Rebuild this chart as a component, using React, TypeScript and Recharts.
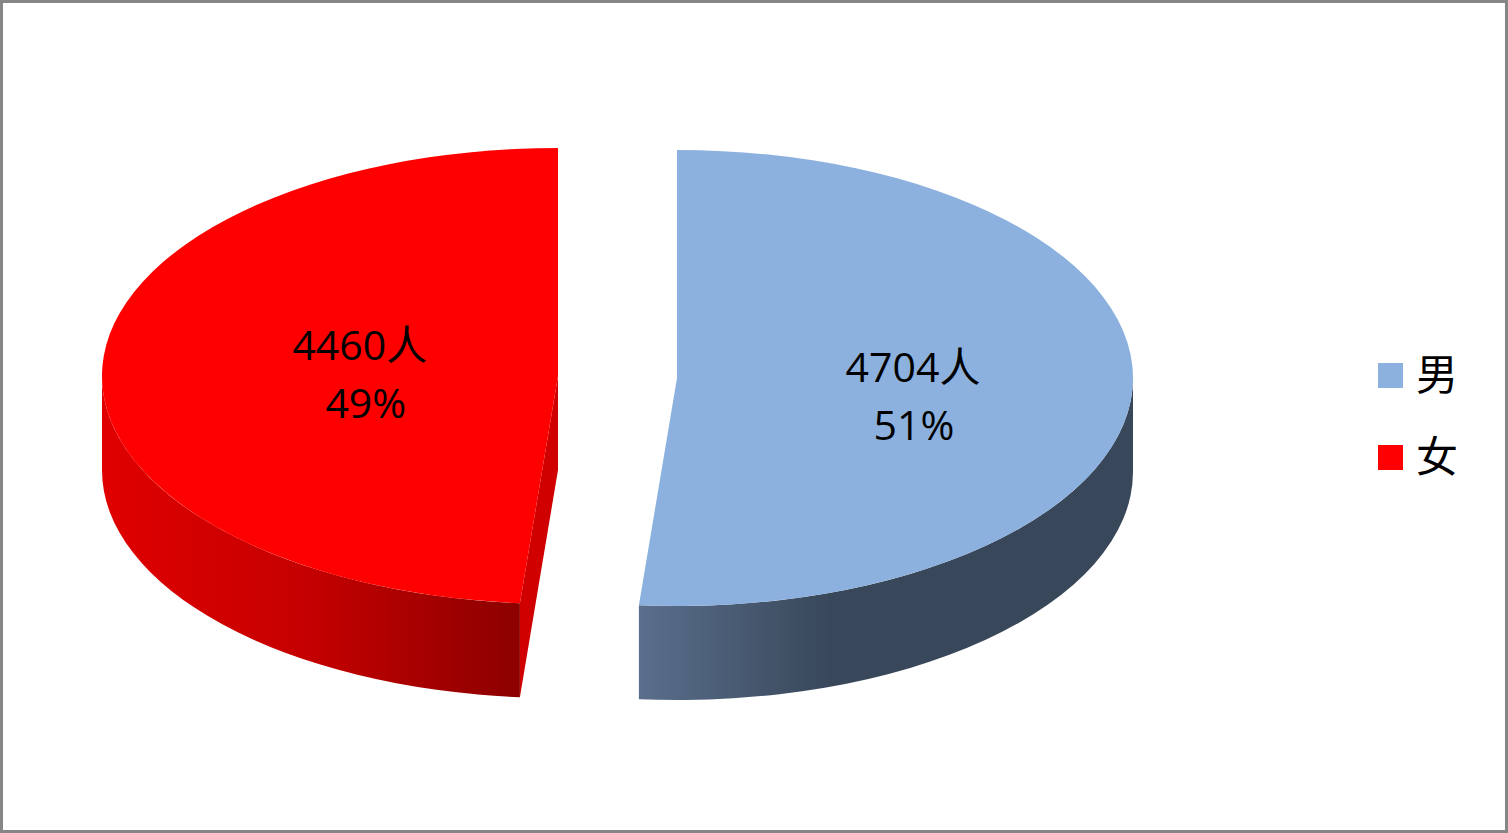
import React from "react";
import { PieChart, Pie, Legend } from "recharts";

const categories = ["男", "女"];
const people = [4704, 4460];
const topColors = ["#8cb1df", "#ff0000"];
const wallStops = [
  [["0", "#5a6f8d"], ["0.39", "#384759"], ["1", "#384759"]],
  [["0", "#e00000"], ["0.5", "#c40000"], ["1", "#8c0000"]],
];
const faceColors = ["#384759", "#d00000"];

const W = 1508;
const H = 833;
const FONT = '"Open Sans", "Noto Sans CJK SC", sans-serif';
const CENTER_X = 617.5;
const CENTER_Y = 378;
const RADIUS = 456;
const TILT = 0.5;
const DEPTH = 94;
const EXPLODE = [{ dx: 59.5, dy: 0 }, { dx: -59.5, dy: -2 }];
const LABEL_RADIUS = [0.518, 0.435];
const LABEL_BASELINE = [382, 360];
const LABEL_LINE = 58;
const PERCENT_SHIFT = [1, 6];

const rows = categories.map((name, i) => ({ name, value: people[i], fill: topColors[i] }));
const total = people.reduce((a, b) => a + b, 0);
const rad = (d: number) => (d * Math.PI) / 180;

function Slice(props: any) {
  const { cx, cy, outerRadius: r, startAngle, endAngle, index } = props;
  const ox = cx + EXPLODE[index].dx;
  const oy = cy + EXPLODE[index].dy;
  const ry = r * TILT;
  const pt = (a: number, drop = 0) => [ox + r * Math.cos(rad(a)), oy - ry * Math.sin(rad(a)) + drop];
  const [hi, lo] = [Math.max(startAngle, endAngle), Math.min(startAngle, endAngle)];
  const p0 = pt(hi);
  const p1 = pt(lo);
  const large = hi - lo > 180 ? 1 : 0;
  const top = `M${ox},${oy}L${p0[0]},${p0[1]}A${r},${ry} 0 ${large} 1 ${p1[0]},${p1[1]}Z`;

  const wHi = Math.min(hi, 0);
  const wLo = Math.max(lo, -180);
  const a = pt(wHi);
  const b = pt(wLo);
  const c = pt(wLo, DEPTH);
  const d = pt(wHi, DEPTH);
  const wall = `M${a[0]},${a[1]}A${r},${ry} 0 0 1 ${b[0]},${b[1]}L${c[0]},${c[1]}A${r},${ry} 0 0 0 ${d[0]},${d[1]}Z`;

  const faceVisible = Math.sin(rad(hi + 90)) < -1e-6;
  const face = `M${ox},${oy}L${p0[0]},${p0[1]}L${p0[0]},${p0[1] + DEPTH}L${ox},${oy + DEPTH}Z`;
  const id = `wall-${index}`;
  return (
    <g>
      <defs>
        <linearGradient id={id} x1="0" y1="0" x2="1" y2="0">
          {wallStops[index].map(([o, col]) => (
            <stop key={o} offset={o} stopColor={col} />
          ))}
        </linearGradient>
      </defs>
      {faceVisible && <path d={face} fill={faceColors[index]} />}
      <path d={wall} fill={`url(#${id})`} />
      <path d={top} fill={props.fill} />
    </g>
  );
}

function SliceLabel(props: any) {
  const { cx, midAngle, outerRadius: r, index } = props;
  const x = cx + EXPLODE[index].dx + r * LABEL_RADIUS[index] * Math.cos(rad(midAngle));
  const y = LABEL_BASELINE[index];
  const pct = Math.round((people[index] / total) * 100);
  return (
    <text fontFamily={FONT} fontSize={41} fill="#000000" textAnchor="middle">
      <tspan x={x} y={y}>{`${people[index]}人`}</tspan>
      <tspan x={x + PERCENT_SHIFT[index]} y={y + LABEL_LINE}>{`${pct}%`}</tspan>
    </text>
  );
}

function LegendList({ payload }: any) {
  const ordered = categories
    .map((name) => (payload || []).find((p: any) => p.value === name))
    .filter(Boolean);
  return (
    <div>
      {ordered.map((p: any) => (
        <div key={p.value} style={{ display: "flex", alignItems: "center", height: 82 }}>
          <span style={{ width: 25, height: 25, background: p.color, display: "block", marginRight: 13 }} />
          <span style={{ fontFamily: '"Noto Sans CJK SC", sans-serif', fontSize: 42, lineHeight: "50px", color: "#000", position: "relative", top: -3 }}>{p.value}</span>
        </div>
      ))}
    </div>
  );
}

export default function App() {
  return (
    <div style={{ position: "absolute", left: 0, top: 0, width: W, height: H, background: "#fff", boxShadow: "inset 0 0 0 3px #868686" }}>
      <PieChart width={W} height={H} margin={{ top: 0, right: 0, bottom: 0, left: 0 }}>
        <Pie
          data={rows}
          dataKey="value"
          nameKey="name"
          cx={CENTER_X}
          cy={CENTER_Y}
          innerRadius={0}
          outerRadius={RADIUS}
          startAngle={90}
          endAngle={-270}
          stroke="none"
          shape={Slice}
          label={SliceLabel}
          labelLine={false}
          isAnimationActive={false}
        />
        <Legend
          content={LegendList}
          wrapperStyle={{ position: "absolute", left: 1378, top: 334, width: 110, bottom: "auto", right: "auto" }}
        />
      </PieChart>
    </div>
  );
}
